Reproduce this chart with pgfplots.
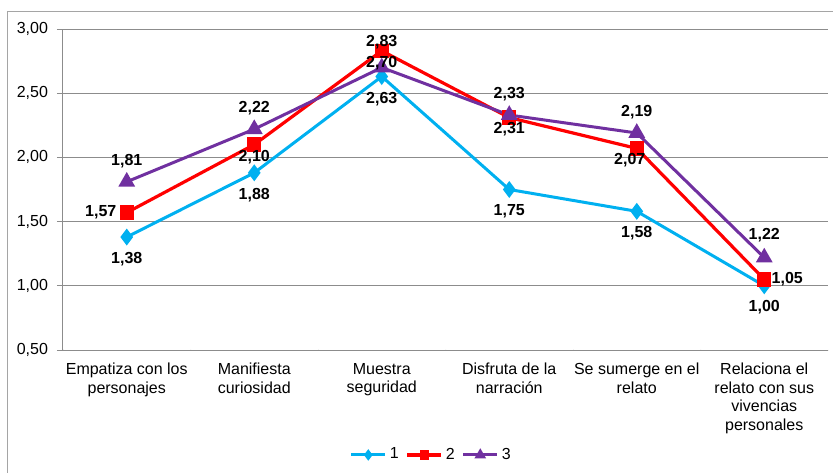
\documentclass[border=0pt]{standalone}
\usepackage{pgfplots}
\pgfplotsset{compat=1.18}
\usepackage{pgfplotstable}
\usepackage{fontspec}
\setmainfont{Liberation Sans}
\definecolor{cSA}{RGB}{0,176,240}
\definecolor{cSB}{RGB}{255,0,0}
\definecolor{cSC}{RGB}{112,48,160}
\definecolor{gridc}{RGB}{140,140,140}
\definecolor{framec}{RGB}{165,165,165}

\pgfplotstableread{
x y dx dy
0 1.38 0 -11
1 1.88 0 -11
2 2.63 0 -11.5
3 1.75 0 -11
4 1.58 0 -11
5 1.00 0 -10.5
}\sA
\pgfplotstableread{
x y dx dy
0 1.57 -13 0
1 2.10 0 -6.5
2 2.83 0 4.5
3 2.31 0 -6
4 2.07 -3.5 -6
5 1.05 11.5 0
}\sB
\pgfplotstableread{
x y dx dy
0 1.81 0 10.5
1 2.22 0 10.5
2 2.70 0 2.25
3 2.33 0 10.5
4 2.19 0 10.5
5 1.22 0 11
}\sC

\pgfplotsset{
  lbl/.style={
    nodes near coords, point meta=y,
    nodes near coords align={center},
    visualization depends on={\thisrow{dx} \as \dx},
    visualization depends on={\thisrow{dy} \as \dy},
    every node near coord/.append style={text=black, font=\bfseries\fontsize{8}{9}\selectfont, anchor=center, xshift=\dx*1pt, yshift=\dy*1pt},
  }
}

\begin{document}
\begin{tikzpicture}
\begin{axis}[
  scale only axis, width=382.5pt, height=160.5pt,
  xmin=-0.5, xmax=5.5, ymin=0.5, ymax=3,
  axis x line*=bottom, axis y line*=left,
  axis line style={gridc, line width=0.5pt},
  ytick={0.5,1,1.5,2,2.5,3},
  ymajorgrids, grid style={gridc, line width=0.5pt},
  tick align=outside, major tick length=3pt,
  ytick style={gridc, line width=0.5pt},
  xtick={0,1,2,3,4,5}, xtick style={draw=none},
  xticklabels={{Empatiza con los\\personajes},{Manifiesta\\curiosidad},{Muestra\\seguridad},{Disfruta de la\\narración},{Se sumerge en el\\relato},{Relaciona el\\relato con sus\\vivencias\\personales}},
  xticklabel style={align=center, font=\fontsize{8}{9.3}\selectfont, yshift=0pt},
  yticklabel style={font=\fontsize{8}{9.6}\selectfont, xshift=-1pt},
  /pgf/number format/use comma,
  /pgf/number format/fixed,
  /pgf/number format/fixed zerofill,
  /pgf/number format/precision=2,
  /pgf/number format/assume math mode=true,
  legend style={at={(axis description cs:0.482,-0.327)}, anchor=center, draw=none, fill=none, legend columns=3, font=\fontsize{8}{9}\selectfont, /tikz/every even column/.append style={column sep=2pt}, nodes={inner xsep=1.5pt}},
  legend image code/.code={\draw[mark repeat=2,mark phase=2, mark options={scale=0.55}] plot coordinates {(0pt,0pt) (8.5pt,0pt) (17pt,0pt)};},
]
\addplot[cSA, line width=1.5pt, mark=diamond*, mark size=3pt, mark options={solid}] table[x=x,y=y] {\sA};
\addlegendentry{1}
\addplot[cSB, line width=1.6pt, mark=square*, mark size=2.8pt, mark options={solid}] table[x=x,y=y] {\sB};
\addlegendentry{2}
\addplot[cSC, line width=1.5pt, mark=triangle*, mark size=3.4pt, mark options={solid}] table[x=x,y=y] {\sC};
\addlegendentry{3}
\addplot[draw=none, mark=none, lbl, forget plot] table[x=x,y=y] {\sA};
\addplot[draw=none, mark=none, lbl, forget plot] table[x=x,y=y] {\sB};
\addplot[draw=none, mark=none, lbl, forget plot] table[x=x,y=y] {\sC};
\pgfplotsinvokeforeach{-0.5,0.5,1.5,2.5,3.5,4.5,5.5}{
  \draw[gridc, line width=0.5pt] (axis cs:#1,0.5) -- ++(0,-3pt);
}
\end{axis}
\pgfresetboundingbox
\path[use as bounding box] (-31.5pt,-61pt) rectangle (385pt,175pt);
\draw[framec, line width=0.5pt] (-27.5pt,-90pt) -- (-27.5pt,169pt) -- (420pt,169pt);
\end{tikzpicture}
\end{document}
